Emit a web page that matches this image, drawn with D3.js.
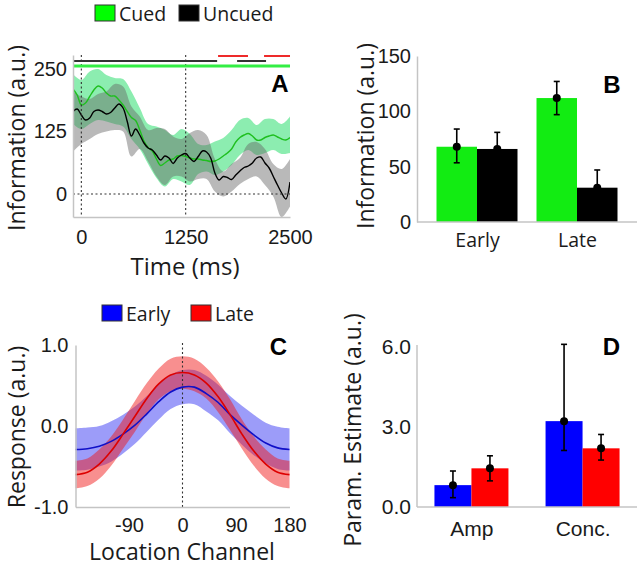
<!DOCTYPE html>
<html><head><meta charset="utf-8">
<script src="https://cdn.jsdelivr.net/npm/d3@7"></script>
<style>
body{margin:0;background:#fff;}
svg{display:block;background:#fff;}
.tick text{font-family:"Liberation Sans",Arial,sans-serif;fill:#1a1a1a;}
.ttl{font-family:"Open Sans","Noto Sans",sans-serif;fill:#1a1a1a;}
.lab{font-family:"Liberation Sans",Arial,sans-serif;font-weight:bold;fill:#000;}
</style></head><body>
<svg id="c" width="640" height="567"></svg>
<script>
// ---------------- DATA ----------------
// Panel A: time course of information (a.u.)
const timeLine = [-100,-50,0,50,100,150,200,250,300,350,400,450,500,550,600,650,700,750,800,850,900,950,1000,1050,1100,1150,1200,1250,1300,1350,1400,1450,1500,1550,1600,1650,1700,1750,1800,1850,1900,1950,2000,2050,2100,2150,2200,2250,2300,2350,2400,2450,2500];
const cuedLine = [210,198,178,182,195,208,216,212,202,196,196,188,178,165,153,147,128,106,93,86,70,57,62,68,70,76,77,75,72,70,70,68,67,65,66,70,76,82,90,104,113,118,121,116,108,108,113,116,118,114,110,108,113];
const uncuedLine = [165,170,158,148,152,165,168,165,160,163,172,180,172,145,116,130,118,102,92,88,78,68,76,72,61,72,78,81,72,65,75,86,84,72,42,28,35,33,29,38,46,53,56,62,72,74,62,52,35,18,2,-10,24];
const timeBand = [-100,0,100,200,300,400,500,600,700,800,900,1000,1100,1200,1300,1400,1500,1600,1700,1800,1900,2000,2100,2200,2300,2400,2500];
const cuedHi = [240,228,245,250,238,232,230,205,172,140,135,128,118,130,120,100,98,105,112,128,148,152,138,150,150,140,155];
const cuedLo = [140,130,140,148,145,140,135,110,90,60,32,15,30,25,18,40,45,38,45,58,78,88,78,82,88,80,82];
const uncuedHi = [205,195,190,200,205,220,215,175,155,128,132,130,115,110,122,128,118,70,45,60,72,100,104,90,60,50,70];
const uncuedLo = [85,100,110,120,125,128,125,75,90,65,35,18,35,35,25,30,30,5,-5,5,20,30,35,18,-5,-46,-25];
const sigCued = [[-100,2500]];
const sigUncued = [[-100,1627],[1866,2213]];
const sigDiff = [[1638,1997],[2189,2500]];
const aYTicks = [0,125,250];
const aXTicks = [0,1250,2500];

// Panel B: information by epoch
const bCats = ["Early","Late"];
const bSeries = ["Cued","Uncued"];
const bCued = [68,112];
const bCuedLo = [53.5,97];
const bCuedHi = [84,127];
const bUncued = [66,31];
const bUncuedLo = [51,16];
const bUncuedHi = [81,47];
const bYTicks = [0,50,100,150];

// Panel C: channel response profiles
const angles = [-180,-160,-140,-120,-100,-80,-60,-40,-20,0,20,40,60,80,100,120,140,160,180];
const earlyResp = [-0.29,-0.28,-0.25,-0.19,-0.10,0.01,0.15,0.30,0.42,0.48,0.48,0.40,0.29,0.14,0.01,-0.11,-0.21,-0.27,-0.29];
const earlyHi = [-0.03,-0.02,0.00,0.06,0.14,0.24,0.37,0.52,0.63,0.69,0.69,0.62,0.51,0.37,0.25,0.14,0.04,-0.01,-0.03];
const earlyLo = [-0.55,-0.54,-0.50,-0.44,-0.34,-0.22,-0.07,0.08,0.21,0.27,0.27,0.18,0.07,-0.09,-0.23,-0.36,-0.46,-0.53,-0.55];
const lateResp = [-0.60,-0.57,-0.47,-0.31,-0.10,0.12,0.34,0.52,0.63,0.66,0.63,0.53,0.36,0.14,-0.10,-0.31,-0.47,-0.57,-0.60];
const lateHi = [-0.43,-0.40,-0.29,-0.13,0.08,0.31,0.53,0.71,0.83,0.86,0.83,0.72,0.55,0.33,0.08,-0.13,-0.29,-0.40,-0.43];
const lateLo = [-0.77,-0.74,-0.65,-0.49,-0.28,-0.07,0.15,0.33,0.43,0.46,0.43,0.34,0.17,-0.05,-0.28,-0.49,-0.65,-0.74,-0.77];
const cYTicks = [-1,0,1];
const cXTicks = [-90,0,90,180];

// Panel D: parameter estimates
const dCats = ["Amp","Conc."];
const dSeries = ["Early","Late"];
const dEarly = [0.82,3.22];
const dEarlyLo = [0.35,2.12];
const dEarlyHi = [1.35,6.1];
const dLate = [1.45,2.2];
const dLateLo = [0.98,1.76];
const dLateHi = [1.92,2.72];
const dYTicks = [0,3,6];

// ---------------- STYLE ----------------
const AXIS = "#c4c4c4";
const GREEN_BAR = "#12ec12", GREEN_LINE = "#1fbf1f", GREEN_BAND = "rgb(0,215,80)";
const GRAY_BAND = "rgb(100,100,100)";
const BLUE = "#0000ff", RED = "#ff0000";

const svg = d3.select("#c");

function styleAxis(g, fs){
  g.select(".domain").attr("stroke", AXIS).attr("stroke-width", 1.5);
  g.selectAll(".tick line").remove();
  g.selectAll(".tick text").style("font-size", fs + "px");
}
function dotted(g, x1, y1, x2, y2){
  g.append("line").attr("x1",x1).attr("y1",y1).attr("x2",x2).attr("y2",y2)
   .attr("stroke","#333").attr("stroke-width",1.1).attr("stroke-dasharray","2,2.5");
}
function yTitle(text, x, y){
  svg.append("text").attr("class","ttl").attr("transform",`translate(${x},${y}) rotate(-90)`)
    .attr("text-anchor","middle").style("font-size","23px").text(text);
}
function xTitle(text, x, y, fs){
  svg.append("text").attr("class","ttl").attr("x",x).attr("y",y)
    .attr("text-anchor","middle").style("font-size",(fs||24)+"px").text(text);
}
function panelLabel(t, x, y){
  svg.append("text").attr("class","lab").attr("x",x).attr("y",y).attr("text-anchor","middle")
    .style("font-size","24px").text(t);
}
function legend(items, x0, y0, gaps){
  let x = x0;
  items.forEach((it,i)=>{
    svg.append("rect").attr("x",x).attr("y",y0).attr("width",20).attr("height",16)
      .attr("fill",it.color).attr("stroke","#333").attr("stroke-width",1);
    svg.append("text").attr("class","ttl").attr("x",x+24).attr("y",y0+15.5)
      .style("font-size","19.5px").text(it.name);
    x += gaps[i];
  });
}

// ---------------- PANEL A ----------------
{
  const x = d3.scaleLinear().domain([-100,2500]).range([73,290]);
  const y = d3.scaleLinear().domain([-46,278]).range([217,55]);
  const g = svg.append("g");
  svg.append("defs").append("clipPath").attr("id","clipA")
    .append("rect").attr("x",73).attr("y",55).attr("width",217).attr("height",162);
  const pa = g.append("g").attr("clip-path","url(#clipA)");

  const area = (hi, lo) => d3.area().x((d,i)=>x(timeBand[i])).y0((d,i)=>y(lo[i])).y1((d,i)=>y(hi[i])).curve(d3.curveCatmullRom);
  pa.append("path").datum(cuedHi).attr("d", area(cuedHi,cuedLo)).attr("fill",GREEN_BAND).attr("fill-opacity",0.45);
  pa.append("path").datum(uncuedHi).attr("d", area(uncuedHi,uncuedLo)).attr("fill",GRAY_BAND).attr("fill-opacity",0.45);

  dotted(g, x(0), 55, x(0), 217);
  dotted(g, x(1250), 55, x(1250), 217);
  dotted(g, 73, y(0), 290, y(0));

  const line = vals => d3.line().x((d,i)=>x(timeLine[i])).y(d=>y(d)).curve(d3.curveCatmullRom)(vals);
  pa.append("path").attr("d", line(cuedLine)).attr("fill","none").attr("stroke",GREEN_LINE).attr("stroke-width",1.4);
  pa.append("path").attr("d", line(uncuedLine)).attr("fill","none").attr("stroke","#000").attr("stroke-width",1.4);

  const sig = (segs, lvl, col, w) => segs.forEach(s => g.append("line")
      .attr("x1",x(s[0])).attr("x2",x(s[1])).attr("y1",y(lvl)).attr("y2",y(lvl))
      .attr("stroke",col).attr("stroke-width",w));
  sig(sigDiff, 276, "#ee2a2a", 2);
  sig(sigUncued, 266, "#333", 2);
  sig(sigCued, 256, "#33ee44", 3);

  const ya = g.append("g").attr("transform","translate(73,0)")
    .call(d3.axisLeft(y).tickValues(aYTicks).tickSizeOuter(0).tickSize(0).tickPadding(6));
  styleAxis(ya, 20);
  const xa = g.append("g").attr("transform","translate(0,217)")
    .call(d3.axisBottom(x).tickValues(aXTicks).tickFormat(d3.format("d")).tickSizeOuter(0).tickSize(0).tickPadding(13));
  styleAxis(xa, 20);

  yTitle("Information (a.u.)", 25, 138);
  xTitle("Time (ms)", 185, 275);
  panelLabel("A", 280, 92);
  legend([{name:"Cued",color:"#00ff00"},{name:"Uncued",color:"#000"}], 95, 5, [84,0]);
}

// ---------------- PANEL B ----------------
{
  const x0 = d3.scalePoint().domain(bCats).range([417,637]).padding(0.6);
  const x1 = d3.scaleBand().domain(bSeries).range([-40.5,40.5]);
  const y = d3.scaleLinear().domain([0,150]).range([222,56]);
  const g = svg.append("g");
  const series = [
    {key:"Cued", vals:bCued, lo:bCuedLo, hi:bCuedHi, color:GREEN_BAR},
    {key:"Uncued", vals:bUncued, lo:bUncuedLo, hi:bUncuedHi, color:"#000"}
  ];
  series.forEach(s=>{
    bCats.forEach((c,i)=>{
      const bx = x0(c)+x1(s.key);
      g.append("rect").attr("x",bx).attr("width",x1.bandwidth()).attr("y",y(s.vals[i]))
        .attr("height",y(0)-y(s.vals[i])).attr("fill",s.color);
    });
  });
  series.forEach(s=>{
    bCats.forEach((c,i)=>{
      const cx = x0(c)+x1(s.key)+x1.bandwidth()/2;
      g.append("line").attr("x1",cx).attr("x2",cx).attr("y1",y(s.lo[i])).attr("y2",y(s.hi[i])).attr("stroke","#000").attr("stroke-width",1.6);
      [s.lo[i],s.hi[i]].forEach(v=>g.append("line").attr("x1",cx-3).attr("x2",cx+3).attr("y1",y(v)).attr("y2",y(v)).attr("stroke","#000").attr("stroke-width",1.6));
      g.append("circle").attr("cx",cx).attr("cy",y(s.vals[i])).attr("r",4).attr("fill","#000");
    });
  });
  const ya = g.append("g").attr("transform","translate(417,0)")
    .call(d3.axisLeft(y).tickValues(bYTicks).tickSizeOuter(0).tickSize(0).tickPadding(6));
  styleAxis(ya, 20);
  const xa = g.append("g").attr("transform","translate(0,222)")
    .call(d3.axisBottom(x0).tickSizeOuter(0).tickSize(0).tickPadding(11));
  xa.select(".domain").attr("d","M417,0H637");
  styleAxis(xa, 19.5);
  xa.selectAll(".tick text").style("font-family","'Open Sans',sans-serif");
  yTitle("Information (a.u.)", 374, 136);
  panelLabel("B", 612, 93);
}

// ---------------- PANEL C ----------------
{
  const x = d3.scaleLinear().domain([-180,180]).range([75.5,289.5]);
  const y = d3.scaleLinear().domain([-1,1]).range([507,345]);
  const g = svg.append("g");
  const area = (hi, lo) => d3.area().x((d,i)=>x(angles[i])).y0((d,i)=>y(lo[i])).y1((d,i)=>y(hi[i])).curve(d3.curveCatmullRom)(hi);
  g.append("path").attr("d", area(earlyHi,earlyLo)).attr("fill","rgb(20,20,240)").attr("fill-opacity",0.42);
  g.append("path").attr("d", area(lateHi,lateLo)).attr("fill","rgb(240,20,20)").attr("fill-opacity",0.48);
  dotted(g, x(0), 343, x(0), 507);
  const line = vals => d3.line().x((d,i)=>x(angles[i])).y(d=>y(d)).curve(d3.curveCatmullRom)(vals);
  g.append("path").attr("d", line(earlyResp)).attr("fill","none").attr("stroke","#1010c8").attr("stroke-width",1.6);
  g.append("path").attr("d", line(lateResp)).attr("fill","none").attr("stroke","#dd0000").attr("stroke-width",1.6);
  const ya = g.append("g").attr("transform","translate(75.5,0)")
    .call(d3.axisLeft(y).tickValues(cYTicks).tickFormat(d3.format(".1f")).tickSizeOuter(0).tickSize(0).tickPadding(7));
  styleAxis(ya, 20);
  ya.selectAll(".tick text").text(d=>d3.format(".1f")(d).replace("−","-"));
  const xa = g.append("g").attr("transform","translate(0,507)")
    .call(d3.axisBottom(x).tickValues(cXTicks).tickSizeOuter(0).tickSize(0).tickPadding(11));
  styleAxis(xa, 20);
  xa.selectAll(".tick text").text(d=>String(d));
  yTitle("Response (a.u.)", 25, 427);
  xTitle("Location Channel", 182, 560, 23);
  panelLabel("C", 278.5, 355);
  legend([{name:"Early",color:"#0000ff"},{name:"Late",color:"#ff0000"}], 102, 305, [89,0]);
}

// ---------------- PANEL D ----------------
{
  const x0 = d3.scalePoint().domain(dCats).range([417,637]).padding(0.49);
  const x1 = d3.scaleBand().domain(dSeries).range([-37,37]);
  const y = d3.scaleLinear().domain([0,6]).range([507,347]);
  const g = svg.append("g");
  const series = [
    {key:"Early", vals:dEarly, lo:dEarlyLo, hi:dEarlyHi, color:BLUE},
    {key:"Late", vals:dLate, lo:dLateLo, hi:dLateHi, color:RED}
  ];
  series.forEach(s=>{
    dCats.forEach((c,i)=>{
      const bx = x0(c)+x1(s.key);
      g.append("rect").attr("x",bx).attr("width",x1.bandwidth()).attr("y",y(s.vals[i]))
        .attr("height",y(0)-y(s.vals[i])).attr("fill",s.color);
    });
  });
  series.forEach(s=>{
    dCats.forEach((c,i)=>{
      const cx = x0(c)+x1(s.key)+x1.bandwidth()/2;
      g.append("line").attr("x1",cx).attr("x2",cx).attr("y1",y(s.lo[i])).attr("y2",y(s.hi[i])).attr("stroke","#000").attr("stroke-width",1.6);
      [s.lo[i],s.hi[i]].forEach(v=>g.append("line").attr("x1",cx-3).attr("x2",cx+3).attr("y1",y(v)).attr("y2",y(v)).attr("stroke","#000").attr("stroke-width",1.6));
      g.append("circle").attr("cx",cx).attr("cy",y(s.vals[i])).attr("r",4).attr("fill","#000");
    });
  });
  const ya = g.append("g").attr("transform","translate(417,0)")
    .call(d3.axisLeft(y).tickValues(dYTicks).tickFormat(d3.format(".1f")).tickSizeOuter(0).tickSize(0).tickPadding(6));
  ya.select(".domain").attr("d","M0,507V345");
  styleAxis(ya, 21);
  const xa = g.append("g").attr("transform","translate(0,507)")
    .call(d3.axisBottom(x0).tickSizeOuter(0).tickSize(0).tickPadding(14));
  xa.select(".domain").attr("d","M417,0H637");
  styleAxis(xa, 21);
  yTitle("Param. Estimate (a.u.)", 361, 430);
  panelLabel("D", 611.5, 355);
}
</script>
</body></html>
